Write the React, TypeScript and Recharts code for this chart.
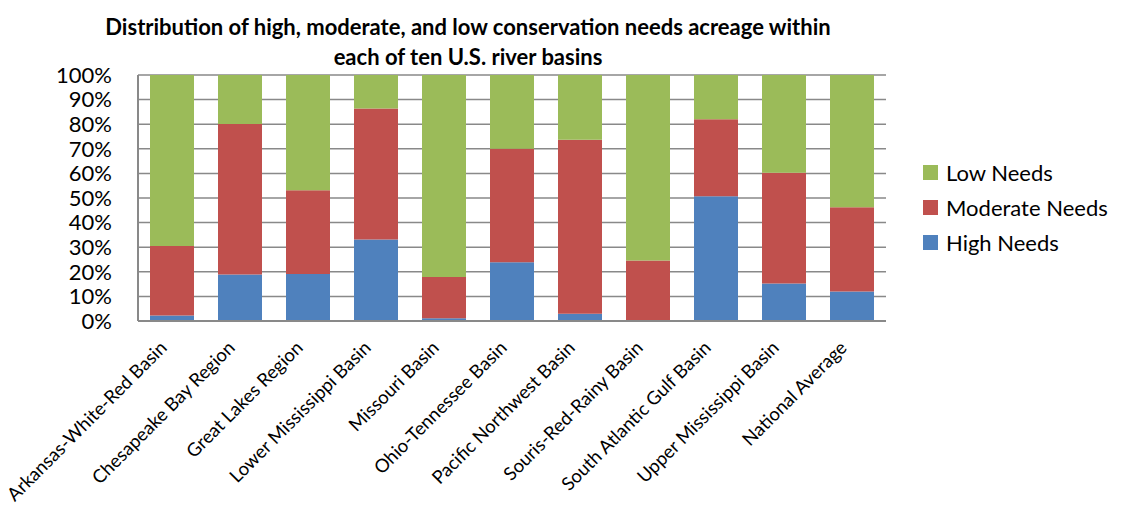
import { Bar, BarChart, CartesianGrid, XAxis, YAxis } from 'recharts'

const basins = [
  'Arkansas-White-Red Basin',
  'Chesapeake Bay Region',
  'Great Lakes Region',
  'Lower Mississippi Basin',
  'Missouri Basin',
  'Ohio-Tennessee Basin',
  'Pacific Northwest Basin',
  'Souris-Red-Rainy Basin',
  'South Atlantic Gulf Basin',
  'Upper Mississippi Basin',
  'National Average',
]

// percent of acreage in each basin
const highNeeds = [2.2, 18.9, 19.1, 33.1, 1.1, 23.9, 2.9, 0.3, 50.7, 15.2, 12.0]
const moderateNeeds = [28.3, 61.2, 34.0, 53.3, 16.8, 46.1, 70.8, 24.3, 31.3, 45.1, 34.2]
const lowNeeds = [69.5, 19.9, 46.9, 13.6, 82.1, 30.0, 26.3, 75.4, 18.0, 39.7, 53.8]

const yTicks = [0, 10, 20, 30, 40, 50, 60, 70, 80, 90, 100]

const legendItems = [
  { label: 'Low Needs', color: '#9BBB59' },
  { label: 'Moderate Needs', color: '#C0504D' },
  { label: 'High Needs', color: '#4F81BD' },
]

const data = basins.map((name, i) => ({
  name,
  high: highNeeds[i],
  moderate: moderateNeeds[i],
  low: lowNeeds[i],
}))

const FONT = 'Lato, "Open Sans", sans-serif'

function BasinTick({ x, y, payload }: any) {
  const ax = x - 4
  const ay = y + 28
  return (
    <text
      x={ax}
      y={ay}
      transform={`rotate(-45, ${ax}, ${ay})`}
      textAnchor="end"
      fontSize={18.5}
      fontFamily={FONT}
      fill="#000"
    >
      {payload.value}
    </text>
  )
}

export default function App() {
  return (
    <div style={{ position: 'relative', width: 1137, height: 510, background: '#fff' }}>
      <style>{'body{margin:0}'}</style>
      <div
        style={{
          position: 'absolute',
          left: 0,
          top: 12,
          width: 936,
          textAlign: 'center',
          fontFamily: FONT,
          fontWeight: 700,
          fontSize: 22,
          lineHeight: '30px',
          color: '#000',
        }}
      >
        Distribution of high, moderate, and low conservation needs acreage within
        <br />
        each of ten U.S. river basins
      </div>
      <div
        style={{
          position: 'absolute',
          left: 923,
          top: 155,
          fontFamily: FONT,
          fontSize: 22,
          color: '#000',
        }}
      >
        {legendItems.map((it) => (
          <div key={it.label} style={{ display: 'flex', alignItems: 'center', height: 35 }}>
            <span style={{ width: 15, height: 15, background: it.color, marginRight: 8 }} />
            {it.label}
          </div>
        ))}
      </div>
      <BarChart
        width={1137}
        height={510}
        data={data}
        margin={{ top: 75, right: 251, bottom: 0, left: 0 }}
        barSize={44}
      >
        <CartesianGrid vertical={false} stroke="#898989" strokeWidth={1.5} />
        <XAxis
          dataKey="name"
          interval={0}
          height={189}
          tickSize={0}
          tickMargin={0}
          tickLine={false}
          axisLine={{ stroke: '#898989', strokeWidth: 2 }}
          tick={<BasinTick />}
        />
        <YAxis
          width={138}
          domain={[0, 100]}
          ticks={yTicks}
          interval={0}
          tickFormatter={(v) => `${v}%`}
          tickSize={0}
          tickMargin={26}
          tickLine={false}
          axisLine={{ stroke: '#898989', strokeWidth: 2 }}
          tick={{ fontSize: 22, fontFamily: FONT, fill: '#000' }}
        />
        <Bar dataKey="high" stackId="a" fill="#4F81BD" isAnimationActive={false} />
        <Bar dataKey="moderate" stackId="a" fill="#C0504D" isAnimationActive={false} />
        <Bar dataKey="low" stackId="a" fill="#9BBB59" isAnimationActive={false} />
      </BarChart>
    </div>
  )
}
